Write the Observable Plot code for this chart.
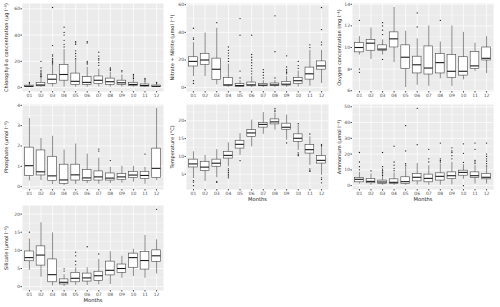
<!DOCTYPE html>
<html><head><meta charset="utf-8">
<script src="https://cdn.jsdelivr.net/npm/d3@7"></script>
<script src="https://cdn.jsdelivr.net/npm/@observablehq/plot@0.6"></script>
<style>
body{margin:0;background:#fff;}
#wrap{position:relative;width:500px;height:307px;overflow:hidden;}
#wrap svg{position:absolute;}
</style></head><body><div id="wrap"></div>
<script>
const months = ["01","02","03","04","05","06","07","08","09","10","11","12"];

// [lower whisker, Q1, median, Q3, upper whisker] per month
const chlStats = [[0.2,0.5,1,1.5,3],[0.3,1,2,3.5,7],[0.5,2.7,6.4,9.6,17],[0.5,5.3,10,17.3,29],[0.3,2.1,4.8,10.7,21],[0.3,2.1,4,8,15.5],[0.5,2.7,5.6,8.5,14],[0.5,2.1,4.5,6.9,11.5],[0.5,2.1,3.7,5.3,9.6],[0.3,1.3,2.4,3.7,6],[0.2,0.8,1.6,2.4,4],[0.1,0.5,1,1.6,3]];
const chlOut = [[3.5,4],[8,8.5,9,10,11,12,13,15,20],[18,19,20,21,22,24,25,32,61],[31,33,36,40,42,46],[22,24,26,28,33,34,35],[18,19,20,34,35],[17,19,21,22,24,27],[13,14,15],[12,13],[7,8,9,10],[5,6,7],[3.5,4]];

const nitStats = [[8,15.3,19,22,32.5],[8,16.3,20,24.5,39.5],[2,5.5,13.3,21,43],[0.2,1.2,2,7,17],[0.1,0.5,1.5,2.5,5],[0.1,1,2,3.7,8],[0.1,1,1.8,2.7,5],[0.2,1.2,2,3,5],[0.3,1.5,2.5,4,8],[0.5,2.5,5,7,12],[1,5.8,10,14.5,27],[3,13,15.7,19,27]];
const nitOut = [[35,36,43,5,3],[],[47],[19,21,23,25,27,29.5],[7,12,38,50],[10,12,14,16,18,20,22,24,38],[7,9,11,13],[7,26,52],[10,11,12,13,15,23],[14,16,19],[29,31],[31,33,42,58]];

const oxyStats = [[9.3,9.55,10,10.4,11],[8.9,9.7,10.4,10.7,11.8],[9.3,9.7,9.85,10.2,10.7],[8.6,10,10.8,11.4,13.7],[6.3,8,9.1,10.2,11.5],[6.5,7.6,8.4,9.15,10.8],[6.4,7.5,8.1,10.1,12],[7.1,7.6,8.6,9.4,10.5],[6.4,7.2,7.8,9.3,12],[7,7.4,7.8,9.1,11.4],[7.8,8,8.3,9.6,10.4],[7.6,8.8,9,10,11]];
const oxyOut = [[12.5,8,7.7],[],[11.2,11.6,12,12.3,8.9],[],[],[11.9,13.2],[],[12.5],[],[],[],[]];

const phoStats = [[0.28,0.53,1.03,1.92,3.35],[0.3,0.55,0.73,1.78,2.37],[0.1,0.27,0.53,1.47,2.48],[0.05,0.13,0.33,1.08,1.8],[0.1,0.3,0.58,1.08,2.1],[0.15,0.27,0.43,0.82,1.6],[0.12,0.3,0.48,0.75,1.4],[0.15,0.3,0.42,0.65,0.95],[0.17,0.32,0.48,0.62,1.0],[0.22,0.42,0.57,0.73,1.0],[0.12,0.37,0.55,0.73,0.95],[0.3,0.42,0.9,1.87,3.85]];
const phoOut = [[],[],[],[],[],[],[1.75,1.85],[1.28],[],[],[1.6],[]];

const tmpStats = [[3.8,6.9,7.9,9.1,11.3],[3,5.9,7.0,8.5,10.3],[4,7.1,8.1,9.1,11.9],[7.1,9.4,10.3,11.3,13.8],[10.3,12.2,13.4,14.4,16.4],[12.7,15.5,16.6,17.4,20.2],[16.2,18.1,19,19.4,22.3],[17.4,19,19.7,20.4,22.1],[14.6,17.5,18.2,19.2,21.6],[11.7,14.1,15.1,16.2,18.8],[7.5,10.8,11.9,13.2,15.5],[4.7,8,8.9,10.1,12.7]];
const tmpOut = [[3.2,2.8,1.8],[],[3,2.7],[6.5,6,5.5,5,4.5,4],[8.8],[],[],[22.6,23,23.5],[13.8],[19.2,11,10.5,10.2],[16.3,6.5,6,5.8],[13.4,13,4,3.5,2.6]];

const ammStats = [[1,2.1,4,4.9,8.4],[0.3,1.5,2.7,4.2,7.4],[0.2,1.1,2.3,3.2,5.7],[0.2,1.1,2.1,4,8],[0.2,1,2.5,5.3,12],[0.3,2.7,5.3,7.4,14],[0.3,2.1,4.6,7,12.7],[0.3,3.2,5.9,7.8,13.7],[0.5,4.2,6.3,8.4,14.8],[4,6.3,8.4,9.5,13.3],[1,4.9,6.3,8.4,12.7],[1,4,5.3,7.4,11.6]];
const ammOut = [[10,12,15,21],[9.3],[6.5,7.5,8.5,9.5,10.5,12,21],[9.5,11,13,15,25],[13,14,22,38],[26,49],[15,17,23],[15,16,17,27],[17,19,21,22,24],[14.7,20.5,26.5,0],[14,15,16,23,27],[12.5,14,15.5,17,18.5,20,27]];

const silStats = [[4.5,7,8,9.7,13.1],[2.6,5.8,8.7,11.1,17.6],[0.2,1.2,3.3,7.5,14.8],[0,0.6,1.2,2,3.3],[0.3,1.2,2.3,3.8,5.2],[0.3,1.4,2.4,3.6,5.2],[0.5,1.6,3,4.1,7.5],[0.6,3.1,4.5,6.9,9.6],[2.3,3.8,5,6.1,8.4],[2.8,5.2,8,9.1,10.3],[2.3,4.7,7.2,9.6,14.1],[3.5,6.8,8.5,10,12.9]];
const silOut = [[15],[],[],[4.3,4.9],[6,7,8.5,9.5],[11],[9],[],[],[],[],[21.3]];

// tick labels
const chlTicks = [0,20,40,60], chlMinor = [10,30,50];
const nitTicks = [0,20,40,60], nitMinor = [10,30,50];
const oxyTicks = [6,8,10,12,14], oxyMinor = [7,9,11,13];
const phoTicks = [0,1,2,3,4], phoMinor = [0.5,1.5,2.5,3.5];
const tmpTicks = [5,10,15,20], tmpMinor = [2.5,7.5,12.5,17.5,22.5];
const ammTicks = [0,10,20,30,40,50], ammMinor = [5,15,25,35,45];
const silTicks = [0,5,10,15,20], silMinor = [2.5,7.5,12.5,17.5];

const labels = {
  chl: "Chlorophyll-a concentration (µg l⁻¹)",
  nit: "Nitrate + Nitrite (µmol l⁻¹)",
  oxy: "Oxygen concentration (mg l⁻¹)",
  pho: "Phosphate (µmol l⁻¹)",
  tmp: "Temperature (°C)",
  amm: "Ammonium (µmol l⁻¹)",
  sil: "Silicate (µmol l⁻¹)"
};

const FONT = "'DejaVu Sans', sans-serif";
const monthNums = months.map((_, i) => i + 1);
const wrap = document.getElementById("wrap");

function panel(cfg) {
  const rows = cfg.stats.map((s, i) => ({m: i + 1, lo: s[0], q1: s[1], med: s[2], q3: s[3], hi: s[4]}));
  const outs = cfg.outliers.flatMap((arr, i) => arr.map(v => ({m: i + 1, v})));
  const all = rows.flatMap(r => [r.lo, r.hi]).concat(outs.map(o => o.v));
  const mn = d3.min(all), mx = d3.max(all), pad = (mx - mn) * 0.05;
  const hw = 0.375;
  const marks = [
    Plot.frame({fill: "#EBEBEB", stroke: "none"}),
    Plot.gridY(cfg.minor, {stroke: "#fff", strokeOpacity: 1, strokeWidth: 0.35}),
    Plot.gridY(cfg.ticks, {stroke: "#fff", strokeOpacity: 1, strokeWidth: 0.7}),
    Plot.gridX(monthNums, {stroke: "#fff", strokeOpacity: 1, strokeWidth: 0.7}),
    Plot.ruleX(rows, {x: "m", y1: "lo", y2: "hi", stroke: "#444", strokeWidth: 0.6}),
    Plot.rect(rows, {x1: d => d.m - hw, x2: d => d.m + hw, y1: "q1", y2: "q3", fill: "#fff", stroke: "#444", strokeWidth: 0.6}),
    Plot.ruleY(rows, {y: "med", x1: d => d.m - hw, x2: d => d.m + hw, stroke: "#1a1a1a", strokeWidth: 1.1}),
    Plot.dot(outs, {x: "m", y: "v", r: 0.65, fill: "#1a1a1a", stroke: "none"}),
    Plot.axisY(cfg.ticks, {tickSize: 1.5, tickPadding: 1, fontSize: 4.5, color: "#4D4D4D", label: null}),
    Plot.axisX(monthNums, {tickSize: 1.5, tickPadding: 0.3, fontSize: 4.5, color: "#4D4D4D", label: null, tickFormat: d => months[d - 1]}),
    Plot.text([cfg.label], {frameAnchor: "left", rotate: -90, dx: -(cfg.ml - 6), fontSize: 5, fill: "#1a1a1a", textAnchor: "middle"})
  ];
  if (cfg.xlab) marks.push(Plot.text([cfg.xlab], {frameAnchor: "bottom", dy: 11, fontSize: 5.2, fill: "#1a1a1a"}));
  const svg = Plot.plot({
    width: cfg.w, height: cfg.h,
    marginLeft: cfg.ml, marginRight: cfg.mr, marginTop: cfg.mt, marginBottom: cfg.mb,
    style: {fontFamily: FONT, background: "transparent", overflow: "visible"},
    x: {type: "linear", domain: [0.4, 12.6], axis: null},
    y: {domain: [mn - pad, mx + pad], axis: null},
    marks
  });
  svg.style.left = cfg.left + "px";
  svg.style.top = cfg.top + "px";
  wrap.appendChild(svg);
}

const cols = [{left: 0, w: 166, ml: 22, mr: 3}, {left: 166, w: 167, ml: 20, mr: 5}, {left: 333, w: 167, ml: 19, mr: 7}];
const rowsL = [{top: 0, h: 102, mt: 3, mb: 11}, {top: 102, h: 103, mt: 2, mb: 16}, {top: 205, h: 102, mt: 0, mb: 17}];

const specs = [
  {c: 0, r: 0, stats: chlStats, outliers: chlOut, ticks: chlTicks, minor: chlMinor, label: labels.chl},
  {c: 1, r: 0, stats: nitStats, outliers: nitOut, ticks: nitTicks, minor: nitMinor, label: labels.nit},
  {c: 2, r: 0, stats: oxyStats, outliers: oxyOut, ticks: oxyTicks, minor: oxyMinor, label: labels.oxy},
  {c: 0, r: 1, stats: phoStats, outliers: phoOut, ticks: phoTicks, minor: phoMinor, label: labels.pho},
  {c: 1, r: 1, stats: tmpStats, outliers: tmpOut, ticks: tmpTicks, minor: tmpMinor, label: labels.tmp, xlab: "Months"},
  {c: 2, r: 1, stats: ammStats, outliers: ammOut, ticks: ammTicks, minor: ammMinor, label: labels.amm, xlab: "Months"},
  {c: 0, r: 2, stats: silStats, outliers: silOut, ticks: silTicks, minor: silMinor, label: labels.sil, xlab: "Months"}
];
for (const s of specs) panel({...s, ...cols[s.c], ...rowsL[s.r]});
</script></body></html>
